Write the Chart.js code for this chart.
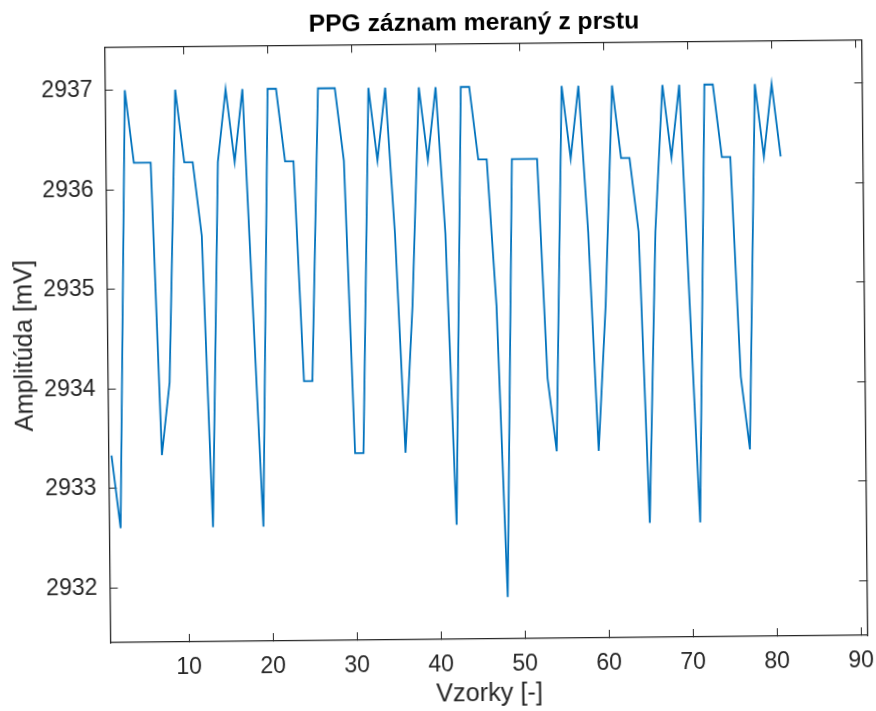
<!DOCTYPE html>
<html>
<head>
<meta charset="utf-8">
<script src="https://cdn.jsdelivr.net/npm/chart.js@4.4.1/dist/chart.umd.min.js"></script>
<style>
  html, body { margin:0; padding:0; overflow:hidden; background:#ffffff; width:876px; height:711px; }
  #wrap { position:absolute; left:0; top:0; width:954px; height:711px;
          transform-origin:486.1px 341.2px; transform:rotate(-0.56deg); }
  canvas { display:block; }
</style>
</head>
<body>
<div id="wrap"><canvas id="c" width="954" height="711"></canvas></div>
<script>
// ---- data ----
const sampleIndex = [
  1, 2, 3, 4, 5, 6, 7, 8, 9, 10,
  11, 12, 13, 14, 15, 16, 17, 18, 19, 20,
  21, 22, 23, 24, 25, 26, 27, 28, 29, 30,
  31, 32, 33, 34, 35, 36, 37, 38, 39, 40,
  41, 42, 43, 44, 45, 46, 47, 48, 49, 50,
  51, 52, 53, 54, 55, 56, 57, 58, 59, 60,
  61, 62, 63, 64, 65, 66, 67, 68, 69, 70,
  71, 72, 73, 74, 75, 76, 77, 78, 79, 80, 81
];
const amplitude = [
  2933.33, 2932.60, 2937.00, 2936.27, 2936.27, 2936.27, 2933.33, 2934.06, 2937.00, 2936.27,
  2936.27, 2935.53, 2932.60, 2936.27, 2937.00, 2936.27, 2937.00, 2934.80, 2932.60, 2937.00,
  2937.00, 2936.27, 2936.27, 2934.06, 2934.06, 2937.00, 2937.00, 2937.00, 2936.27, 2933.33,
  2933.33, 2937.00, 2936.27, 2937.00, 2935.53, 2933.33, 2934.80, 2937.00, 2936.27, 2937.00,
  2935.53, 2932.60, 2937.00, 2937.00, 2936.27, 2936.27, 2934.80, 2931.87, 2936.27, 2936.27,
  2936.27, 2936.27, 2934.06, 2933.33, 2937.00, 2936.27, 2937.00, 2935.53, 2933.33, 2934.80,
  2937.00, 2936.27, 2936.27, 2935.53, 2932.60, 2935.53, 2937.00, 2936.27, 2937.00, 2934.80,
  2932.60, 2937.00, 2937.00, 2936.27, 2936.27, 2934.06, 2933.33, 2937.00, 2936.27, 2937.00, 2936.27
];
const xTickValues = [10, 20, 30, 40, 50, 60, 70, 80, 90];
const yTickValues = [2932, 2933, 2934, 2935, 2936, 2937];
const chartTitle = 'PPG záznam meraný z prstu';
const xAxisTitle = 'Vzorky [-]';
const yAxisTitle = 'Amplitúda [mV]';

// ---- styling ----
const FONT = '"Liberation Sans", Arial, Helvetica, sans-serif';
const AXIS_COLOR = '#262626';
const LINE_COLOR = '#0072BD';
const X_RANGE = { min: 0.64, max: 90.8 };
const Y_RANGE = { min: 2931.45, max: 2937.435 };

const points = sampleIndex.map((x, i) => ({ x: x, y: amplitude[i] }));

const tickGrid = {
  display: true, drawOnChartArea: false, drawTicks: true,
  tickLength: -8, color: AXIS_COLOR, lineWidth: 1
};
const boxBorder = { display: true, color: AXIS_COLOR, width: 1.3 };
const tickFont = { family: FONT, size: 23 };
const labelFont = { family: FONT, size: 25.3 };

new Chart(document.getElementById('c'), {
  type: 'line',
  data: {
    datasets: [{
      data: points,
      borderColor: LINE_COLOR,
      backgroundColor: LINE_COLOR,
      borderWidth: 1.8,
      pointRadius: 0,
      tension: 0,
      fill: false,
      xAxisID: 'x',
      yAxisID: 'y'
    }]
  },
  options: {
    responsive: false,
    animation: false,
    devicePixelRatio: 1,
    layout: { padding: 0 },
    plugins: {
      legend: { display: false },
      tooltip: { enabled: false },
      title: {
        display: true,
        text: chartTitle,
        color: '#000000',
        font: { family: FONT, size: 24.7, weight: 'bold' },
        padding: { top: 8.6, bottom: 5.2 }
      }
    },
    scales: {
      x: {
        type: 'linear', position: 'bottom',
        min: X_RANGE.min, max: X_RANGE.max,
        afterBuildTicks: s => { s.ticks = xTickValues.map(v => ({ value: v })); },
        afterFit: s => { s.height = 72; },
        ticks: { font: tickFont, color: AXIS_COLOR, padding: 19.8, maxRotation: 0, autoSkip: false,
                 callback: v => String(v) },
        grid: tickGrid,
        border: boxBorder,
        title: { display: true, text: xAxisTitle, color: AXIS_COLOR,
                 font: labelFont, padding: { top: 0, bottom: 1.8 } }
      },
      x2: {
        type: 'linear', position: 'top',
        min: X_RANGE.min, max: X_RANGE.max,
        afterBuildTicks: s => { s.ticks = xTickValues.map(v => ({ value: v })); },
        afterFit: s => { s.height = 0; },
        ticks: { display: false },
        grid: tickGrid,
        border: boxBorder
      },
      y: {
        type: 'linear', position: 'left',
        min: Y_RANGE.min, max: Y_RANGE.max,
        afterBuildTicks: s => { s.ticks = yTickValues.map(v => ({ value: v })); },
        afterFit: s => { s.width = 107.4; },
        ticks: { font: tickFont, color: AXIS_COLOR, padding: 20.4, autoSkip: false,
                 callback: v => String(v) },
        grid: tickGrid,
        border: boxBorder,
        title: { display: true, text: yAxisTitle, color: AXIS_COLOR,
                 font: labelFont, padding: { top: 9.8, bottom: 0 } }
      },
      y2: {
        type: 'linear', position: 'right',
        min: Y_RANGE.min, max: Y_RANGE.max,
        afterBuildTicks: s => { s.ticks = yTickValues.map(v => ({ value: v })); },
        afterFit: s => { s.width = 89.2; },
        ticks: { display: false },
        grid: tickGrid,
        border: boxBorder
      }
    }
  }
});
</script>
</body>
</html>
